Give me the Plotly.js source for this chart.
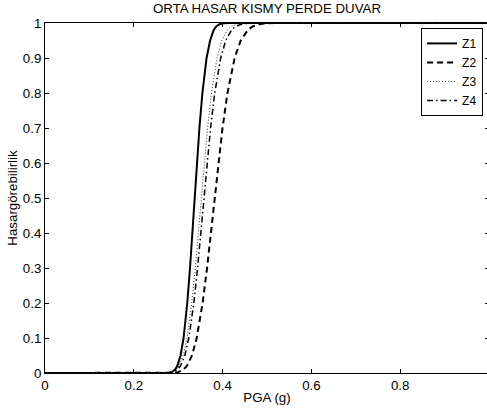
<!DOCTYPE html>
<html>
<head>
<meta charset="utf-8">
<script src="https://cdn.plot.ly/plotly-3.0.1.min.js"></script>
<style>
html, body { margin: 0; padding: 0; overflow: hidden; background: #fff; }
#chart { width: 490px; height: 414px; }
</style>
</head>
<body>
<div id="chart"></div>
<script>
// Probability levels (damage probability)
const probLevels = [0, 0, 0.001, 0.003, 0.01, 0.02, 0.05, 0.1, 0.2, 0.3, 0.4, 0.5, 0.6, 0.7, 0.8, 0.9, 0.95, 0.98, 0.99, 0.997, 0.999, 1, 1];
// PGA (g) at which each curve reaches those levels
const pgaZ1 = [0, 0.27, 0.280, 0.2858, 0.2931, 0.2979, 0.3053, 0.3121, 0.3204, 0.3266, 0.3319, 0.337, 0.3422, 0.3478, 0.3545, 0.3639, 0.3719, 0.3800, 0.3855, 0.3940, 0.4010, 0.415, 1];
const pgaZ2 = [0, 0.28, 0.2920, 0.3007, 0.3120, 0.3195, 0.3311, 0.3417, 0.3550, 0.3650, 0.3737, 0.382, 0.3905, 0.3998, 0.4110, 0.4271, 0.4408, 0.4568, 0.4677, 0.4852, 0.4998, 0.52, 1];
const pgaZ3 = [0, 0.27, 0.2792, 0.2864, 0.2956, 0.3017, 0.3111, 0.3198, 0.3305, 0.3384, 0.3454, 0.352, 0.3588, 0.3661, 0.3749, 0.3875, 0.3982, 0.4106, 0.4191, 0.4326, 0.4438, 0.46, 1];
const pgaZ4 = [0, 0.27, 0.2814, 0.2889, 0.2986, 0.3050, 0.3149, 0.3239, 0.3353, 0.3436, 0.3510, 0.358, 0.3652, 0.3729, 0.3823, 0.3957, 0.4070, 0.4202, 0.4292, 0.4436, 0.4556, 0.47, 1];
const seriesNames = ['Z1', 'Z2', 'Z3', 'Z4'];
const xTickVals = [0, 0.2, 0.4, 0.6, 0.8, 1];
const xTickText = ['0', '0.2', '0.4', '0.6', '0.8', '1'];
const yTickVals = [0, 0.1, 0.2, 0.3, 0.4, 0.5, 0.6, 0.7, 0.8, 0.9, 1];
const yTickText = ['0', '0.1', '0.2', '0.3', '0.4', '0.5', '0.6', '0.7', '0.8', '0.9', '1'];

const FONT = 'Liberation Sans, Arial, sans-serif';
const styles = [
  {color: '#000', width: 2, dash: 'solid'},
  {color: '#000', width: 2, dash: '6px,4px'},
  {color: '#333', width: 1, dash: '1px,2px'},
  {color: '#000', width: 1.5, dash: '6px,3px,1.5px,3px'}
];
const pgaAll = [pgaZ1, pgaZ2, pgaZ3, pgaZ4];
const traces = seriesNames.map((n, i) => ({
  type: 'scatter', mode: 'lines', name: n,
  x: pgaAll[i], y: probLevels,
  line: styles[i]
}));

const axisCommon = {
  showgrid: false, zeroline: false, showline: true, linecolor: '#000', linewidth: 1,
  mirror: 'ticks', ticks: 'inside', ticklen: 4, tickwidth: 1, tickcolor: '#000',
  tickfont: {family: FONT, size: 13.3, color: '#000'}
};

const layout = {
  width: 490, height: 414,
  margin: {l: 45, r: 1, t: 23, b: 41},
  paper_bgcolor: '#fff', plot_bgcolor: '#fff',
  font: {family: FONT, size: 13.3, color: '#000'},
  title: {text: 'ORTA HASAR KISMY PERDE DUVAR', x: 0.5, xref: 'paper', y: 0.981, yref: 'container', yanchor: 'middle',
          font: {family: FONT, size: 13.3, color: '#000'}},
  xaxis: Object.assign({}, axisCommon, {
    range: [0, 1], tickvals: xTickVals, ticktext: xTickText,
    title: {text: 'PGA (g)', standoff: 0, font: {family: FONT, size: 13.3, color: '#000'}}
  }),
  yaxis: Object.assign({}, axisCommon, {
    range: [0, 1], tickvals: yTickVals, ticktext: yTickText,
    title: {text: 'Hasargörebilirlik', standoff: 2, font: {family: FONT, size: 13.3, color: '#000'}}
  }),
  showlegend: true,
  legend: {
    x: 0.847, y: 0.986, xanchor: 'left', yanchor: 'top',
    bgcolor: '#fff', bordercolor: '#000', borderwidth: 1,
    font: {family: FONT, size: 12, color: '#000'},
    itemwidth: 30, tracegroupgap: 0
  }
};

Plotly.newPlot('chart', traces, layout, {displayModeBar: false, staticPlot: true});
</script>
</body>
</html>
